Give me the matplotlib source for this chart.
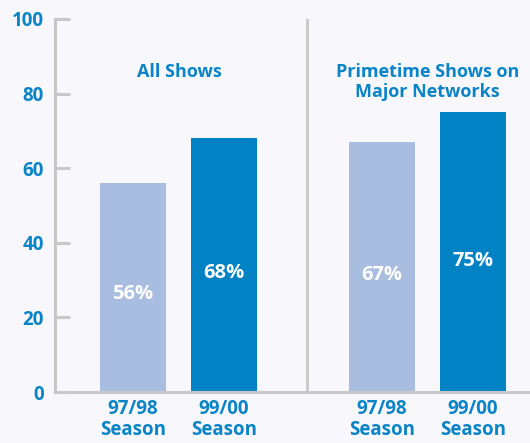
import matplotlib.pyplot as plt

seasons = ["97/98\nSeason", "99/00\nSeason", "97/98\nSeason", "99/00\nSeason"]
values = [56, 68, 67, 75]
groups = ["All Shows", "Primetime Shows on\nMajor Networks"]

positions = [0, 1, 2.736, 3.736]
light = "#a9bde0"
dark = "#0082c4"
blue = "#0a84c6"
grey = "#c8c8c8"
bg = "#f7f7fc"

plt.rcParams['font.family'] = ['Open Sans', 'DejaVu Sans']

fig = plt.figure(figsize=(5.3, 4.43), dpi=100, facecolor=bg)
ax = fig.add_axes([55 / 530, 51 / 443, 475 / 530, 373 / 443], facecolor=bg)

colors = [light, dark, light, dark]
ax.bar(positions, values, width=0.725, color=colors, zorder=2)

for x, v in zip(positions, values):
    ax.text(x, v * 0.47, f"{v}%", color="white", fontsize=14.5, fontweight="bold",
            ha="center", va="center", zorder=3)

ax.text(0.505, 85.8, groups[0], color=blue, fontsize=13, fontweight="bold",
        ha="center", va="center")
ax.text(3.24, 83, groups[1], color=blue, fontsize=13, fontweight="bold",
        ha="center", va="center", linespacing=1.15)

ax.axvline(1.912, color=grey, lw=2, zorder=1)

ax.set_xlim(-0.857, 4.363)
ax.set_ylim(0, 100)
ax.set_yticks([0, 20, 40, 60, 80, 100])
ax.set_xticks(positions)
ax.set_xticklabels(seasons, color=blue, fontsize=13.5, fontweight="bold", linespacing=1.05)
for lbl in ax.get_yticklabels():
    lbl.set_color(blue)
    lbl.set_fontweight("bold")
    lbl.set_fontsize(13.5)

ax.tick_params(axis="y", direction="in", length=11, width=2.2, color=grey, pad=8)
ax.tick_params(axis="x", length=0, pad=5)

for side in ["top", "right"]:
    ax.spines[side].set_visible(False)
for side in ["left", "bottom"]:
    ax.spines[side].set_color(grey)
    ax.spines[side].set_linewidth(2.2)

fig.savefig("out.png", dpi=100, facecolor=bg)
